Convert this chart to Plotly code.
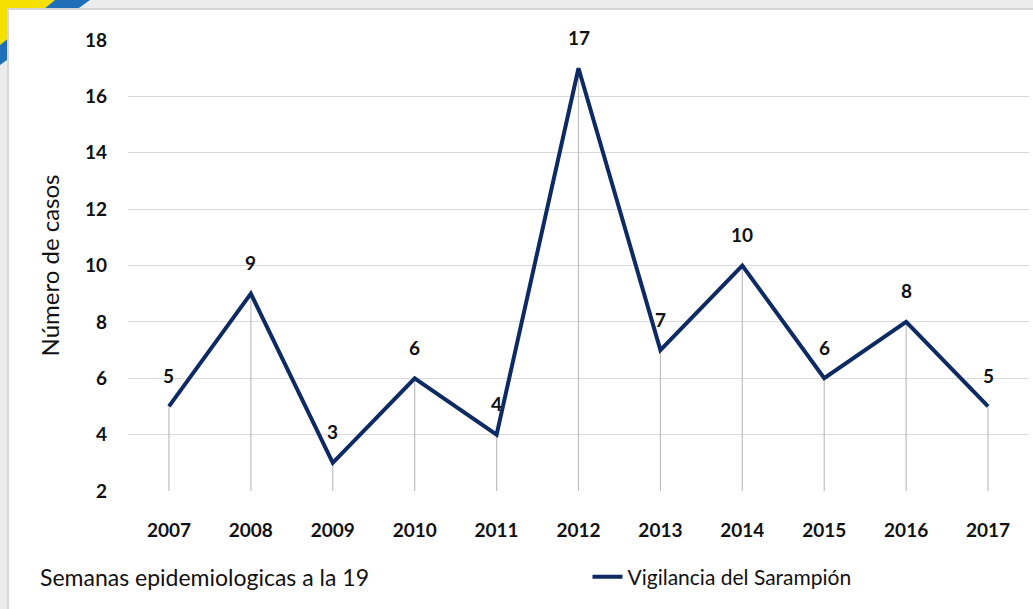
import plotly.graph_objects as go

years = ["2007", "2008", "2009", "2010", "2011", "2012", "2013", "2014", "2015", "2016", "2017"]
cases = [5, 9, 3, 6, 4, 17, 7, 10, 6, 8, 5]
y_ticks = [2, 4, 6, 8, 10, 12, 14, 16, 18]
y_min, y_max = 2, 18

navy = "#0d2a63"
font_family = "Lato, 'Open Sans', sans-serif"

fig = go.Figure()
fig.add_trace(go.Scatter(
    x=years, y=cases, mode="lines",
    name="Vigilancia del Sarampión",
    line=dict(color=navy, width=4),
    error_y=dict(type="data", symmetric=False, array=[0] * len(cases),
                 arrayminus=[v - y_min for v in cases],
                 color="#bfbfbf", thickness=1.2, width=0),
    cliponaxis=False,
))

for i, v in enumerate(cases):
    fig.add_annotation(x=i, y=v, text=str(v), showarrow=False, yanchor="middle", yshift=31,
                       font=dict(size=19, color="#111111", family=font_family, weight="bold"))

# Decorative background: grey page, corner stripes, white panel
fig.add_shape(type="rect", xref="paper", yref="paper", x0=-0.16, x1=1.02, y0=-0.3, y1=1.1,
              fillcolor="#ececec", line_width=0, layer="below")
fig.add_shape(type="path", xref="paper", yref="paper",
              path="M -0.1421,1.0887 L -0.0810,1.0887 L -0.1421,0.9889 Z",
              fillcolor="#f5e000", line_width=0, layer="below")
fig.add_shape(type="path", xref="paper", yref="paper",
              path="M -0.0810,1.0887 L -0.0422,1.0887 L -0.1421,0.9446 L -0.1421,0.9889 Z",
              fillcolor="#1e6fb8", line_width=0, layer="below")
fig.add_shape(type="rect", xref="paper", yref="paper", x0=-0.1332, x1=1.03, y0=-0.3, y1=1.0687,
              fillcolor="white", line=dict(color="#d6d6d6", width=2), layer="below")

fig.add_annotation(text="Semanas epidemiologicas a la 19", xref="paper", yref="paper",
                   x=-0.1, y=-0.1907, xanchor="left", yanchor="middle", showarrow=False,
                   font=dict(size=23, color="#111111", family=font_family))

fig.update_layout(
    width=1033, height=609,
    margin=dict(l=128, r=4, t=40, b=118, autoexpand=False),
    paper_bgcolor="white", plot_bgcolor="rgba(0,0,0,0)",
    showlegend=True,
    legend=dict(orientation="h", x=0.51, y=-0.1907, xanchor="left", yanchor="middle",
                font=dict(size=21, color="#111111", family=font_family),
                bgcolor="rgba(0,0,0,0)"),
    xaxis=dict(type="category", range=[-0.5, len(years) - 0.5], showgrid=False, showline=False,
               ticks="", zeroline=False, automargin=False,
               tickfont=dict(size=19, color="#111111", family=font_family, weight="bold"),
               ticklabelstandoff=26),
    yaxis=dict(range=[y_min, y_max], tickvals=y_ticks, showgrid=True, gridcolor="#d9d9d9",
               gridwidth=1.2, zeroline=False, showline=False, ticks="", automargin=False,
               tickfont=dict(size=19, color="#111111", family=font_family, weight="bold"),
               ticklabelstandoff=20,
               title=dict(text="Número de casos", standoff=18,
                          font=dict(size=24, color="#111111", family=font_family))),
)

fig.write_html("out.html", config={"displayModeBar": False},
               post_script="document.body.style.margin='0';document.body.style.overflow='hidden';")
